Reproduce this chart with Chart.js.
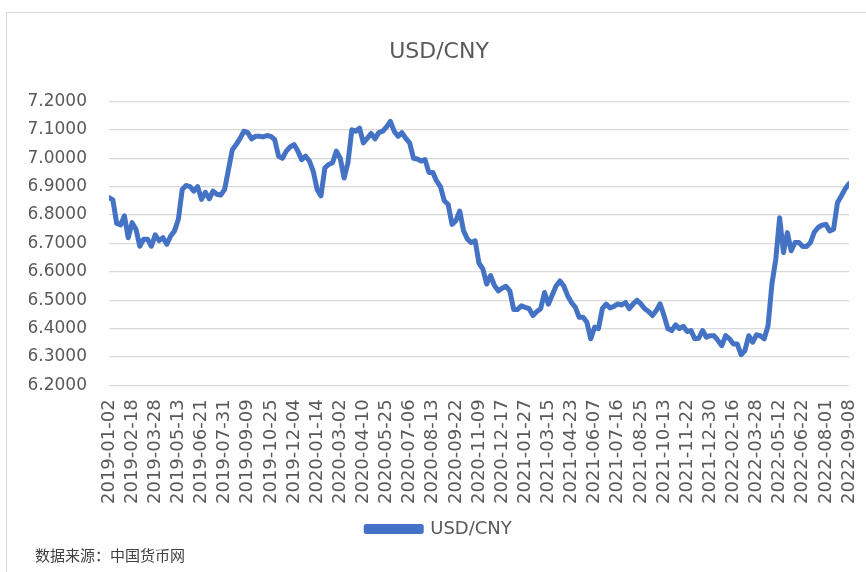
<!DOCTYPE html>
<html>
<head>
<meta charset="utf-8">
<script src="https://cdn.jsdelivr.net/npm/chart.js@4"></script>
<style>
  html, body { margin: 0; padding: 0; background: #fff; overflow: hidden; }
  body { width: 866px; height: 572px; position: relative; }
  .frame { position: absolute; left: 6px; top: 12px; width: 900px; height: 620px; border: 1px solid #d9d9d9; box-sizing: border-box; }
  .chart-box { position: absolute; left: 0; top: 0; width: 878px; height: 539px; }
  .source { position: absolute; left: 28px; top: 531px; font: 15px "Noto Sans CJK SC", sans-serif; color: #404040; }
</style>
</head>
<body>
<div class="frame">
  <div class="chart-box"><canvas id="lineChart"></canvas></div>
  <div class="source">数据来源：中国货币网</div>
</div>
<script>
/* tick labels shown on the date axis, one every 6 samples */
const tickLabels = ["2019-01-02", "2019-02-18", "2019-03-28", "2019-05-13", "2019-06-21", "2019-07-31",
  "2019-09-09", "2019-10-25", "2019-12-04", "2020-01-14", "2020-03-02", "2020-04-10", "2020-05-25",
  "2020-07-06", "2020-08-13", "2020-09-22", "2020-11-09", "2020-12-17", "2021-01-27", "2021-03-15",
  "2021-04-23", "2021-06-07", "2021-07-16", "2021-08-25", "2021-10-13", "2021-11-22", "2021-12-30",
  "2022-02-16", "2022-03-28", "2022-05-12", "2022-06-22", "2022-08-01", "2022-09-08"];
const samplesPerTick = 6;

const usdCny = [
  6.861, 6.853, 6.770, 6.765, 6.797, 6.720, 6.773, 6.750, 6.690, 6.715, 6.715, 6.690,
  6.730, 6.710, 6.720, 6.697, 6.726, 6.744, 6.785, 6.890, 6.904, 6.900, 6.884, 6.900,
  6.855, 6.880, 6.857, 6.884, 6.873, 6.870, 6.890, 6.960, 7.030, 7.048, 7.070, 7.095,
  7.090, 7.068, 7.077, 7.077, 7.075, 7.080, 7.077, 7.065, 7.007, 7.000, 7.025, 7.040,
  7.048, 7.025, 6.995, 7.007, 6.990, 6.954, 6.890, 6.867, 6.966, 6.978, 6.984, 7.025,
  7.000, 6.930, 6.984, 7.100, 7.095, 7.106, 7.054, 7.070, 7.087, 7.068, 7.090, 7.095,
  7.110, 7.130, 7.095, 7.077, 7.090, 7.070, 7.054, 7.000, 6.997, 6.990, 6.995, 6.950,
  6.950, 6.920, 6.900, 6.850, 6.837, 6.767, 6.780, 6.814, 6.744, 6.715, 6.703, 6.709,
  6.630, 6.610, 6.557, 6.587, 6.552, 6.533, 6.542, 6.549, 6.533, 6.467, 6.467, 6.480,
  6.475, 6.470, 6.446, 6.460, 6.470, 6.527, 6.486, 6.518, 6.550, 6.568, 6.550, 6.516,
  6.492, 6.475, 6.440, 6.440, 6.422, 6.364, 6.405, 6.400, 6.470, 6.486, 6.473, 6.478,
  6.487, 6.483, 6.492, 6.470, 6.487, 6.500, 6.487, 6.470, 6.460, 6.446, 6.464, 6.487,
  6.446, 6.400, 6.393, 6.413, 6.400, 6.408, 6.390, 6.393, 6.364, 6.366, 6.393, 6.370,
  6.375, 6.375, 6.358, 6.340, 6.375, 6.364, 6.346, 6.346, 6.308, 6.323, 6.375, 6.352,
  6.378, 6.375, 6.364, 6.410, 6.557, 6.644, 6.790, 6.668, 6.738, 6.674, 6.703, 6.703,
  6.689, 6.689, 6.703, 6.740, 6.756, 6.764, 6.767, 6.744, 6.750, 6.843, 6.867, 6.892,
  6.910];

const yMin = 6.2, yMax = 7.2, yStep = 0.1;

const points = usdCny.map((v, i) => ({ x: i, y: v }));
const lastIndex = (tickLabels.length - 1) * samplesPerTick;

const textGray = "#595959";
const font = "'DejaVu Sans', 'Liberation Sans', sans-serif";

var ctx = document.getElementById('lineChart').getContext('2d');
new Chart(ctx, {
  type: "line",
  data: {
    datasets: [{
      label: "USD/CNY",
      data: points,
      borderColor: "#4472C4",
      backgroundColor: "#4472C4",
      borderWidth: 5,
      borderJoinStyle: "round",
      borderCapStyle: "round",
      pointRadius: 0,
      tension: 0
    }]
  },
  options: {
    responsive: true,
    maintainAspectRatio: false,
    animation: false,
    layout: { padding: { left: 22, right: 36, top: 0, bottom: 4 } },
    plugins: {
      title: {
        display: true,
        text: "USD/CNY",
        color: textGray,
        font: { family: font, size: 22, weight: "normal" },
        padding: { top: 26, bottom: 36 }
      },
      legend: {
        position: "bottom",
        labels: {
          color: textGray,
          font: { family: font, size: 18 },
          boxWidth: 55,
          boxHeight: 5,
          padding: 10
        }
      },
      tooltip: { enabled: false }
    },
    scales: {
      x: {
        type: "linear",
        min: 0,
        max: lastIndex,
        grid: { display: false },
        border: { display: false },
        ticks: {
          stepSize: samplesPerTick,
          autoSkip: false,
          minRotation: 90,
          maxRotation: 90,
          padding: 6,
          color: textGray,
          font: { family: font, size: 18 },
          callback: (v) => tickLabels[Math.round(v / samplesPerTick)]
        }
      },
      y: {
        min: yMin,
        max: yMax,
        grid: { color: "#d9d9d9", lineWidth: 1.3, drawTicks: false },
        border: { display: false },
        afterFit: (scale) => { scale.width = 80; },
        ticks: {
          stepSize: yStep,
          padding: 22,
          color: textGray,
          font: { family: font, size: 17 },
          callback: (v) => Number(v).toFixed(4)
        }
      }
    }
  }
});
</script>
</body>
</html>
